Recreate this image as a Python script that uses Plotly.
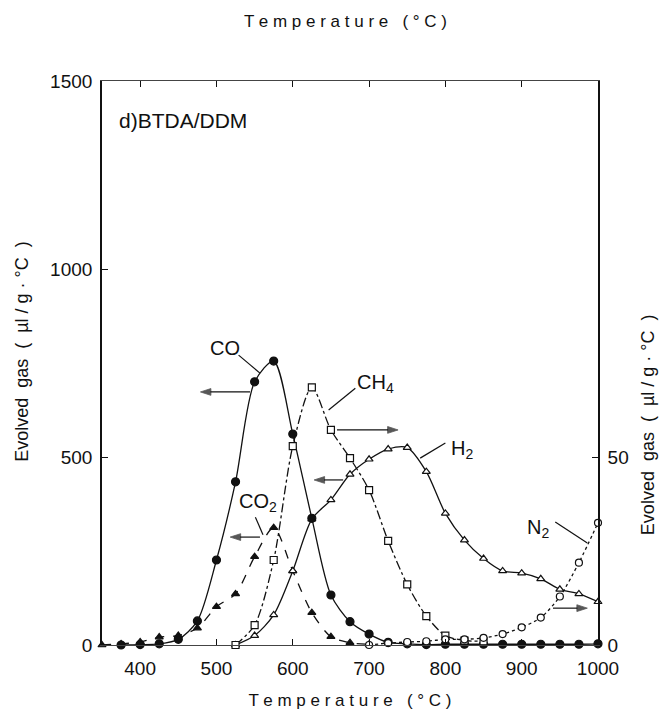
import plotly.graph_objects as go

# Evolved gas rates for BTDA/DDM (µl/g·°C)
T_CO = [375, 400, 425, 450, 475, 500, 525, 550, 575, 600, 625, 650, 675, 700, 725, 750, 775,
        800, 825, 850, 875, 900, 925, 950, 975, 1000]
CO = [0, 1, 3, 15, 64, 226, 434, 700, 755, 561, 337, 133, 62, 29, 7, 3, 1,
      2, 2, 2, 2, 2, 2, 2, 2, 3]

T_CO2 = [350, 375, 400, 425, 450, 475, 500, 525, 550, 575, 600, 625, 650, 675, 700]
CO2 = [0, 3, 8, 21, 25, 45, 102, 136, 235, 312, 197, 86, 22, 6, 2]

T_H2 = [525, 550, 575, 600, 625, 650, 675, 700, 725, 750, 775, 800, 825, 850, 875, 900,
        925, 950, 975, 1000]
H2 = [0, 25, 80, 197, 335, 386, 454, 494, 521, 525, 461, 350, 279, 230, 197, 191,
      176, 148, 136, 115]

# right-hand scale
T_CH4 = [525, 550, 575, 600, 625, 650, 675, 700, 725, 750, 775, 800, 825, 850]
CH4 = [0, 5.3, 22.6, 52.9, 68.5, 57.2, 49.7, 41.2, 27.7, 16.1, 7.7, 2.5, 1.2, 1.0]

T_N2 = [700, 725, 750, 775, 800, 825, 850, 875, 900, 925, 950, 975, 1000]
N2 = [0, 0.5, 0.8, 1.0, 1.5, 1.5, 1.9, 2.9, 4.7, 7.3, 12.9, 21.9, 32.5]

x_ticks = [400, 500, 600, 700, 800, 900, 1000]
y_ticks = [0, 500, 1000, 1500]
y2_ticks = [0, 50]

FONT = "Liberation Sans, Arial, sans-serif"
INK = "#111111"

fig = go.Figure()


def add_series(x, y, dash, symbol, fill, size, axis="y"):
    fig.add_trace(go.Scatter(
        x=x, y=y, yaxis=axis, mode="lines+markers", cliponaxis=False,
        line=dict(color=INK, width=1.3, dash=dash, shape="spline", smoothing=0.8),
        marker=dict(symbol=symbol, size=size, color=fill,
                    line=dict(color=INK, width=1.2)),
        showlegend=False,
    ))


add_series(T_CO2, CO2, "dash", "triangle-up", INK, 7)
add_series(T_CH4, CH4, "dashdot", "square", "white", 7, axis="y2")
add_series(T_N2, N2, "dot", "circle", "white", 7, axis="y2")
add_series(T_H2, H2, "solid", "triangle-up", "white", 7)
add_series(T_CO, CO, "solid", "circle", INK, 8)

# series labels
labels = [
    (511, 790, "CO"),
    (555, 380, "CO<sub>2</sub>"),
    (709, 696, "CH<sub>4</sub>"),
    (822, 519, "H<sub>2</sub>"),
    (922, 311, "N<sub>2</sub>"),
]
for x, y, t in labels:
    fig.add_annotation(x=x, y=y, text=t, showarrow=False,
                       font=dict(family=FONT, size=20, color=INK))

# arrows pointing to the axis each curve is read on (tail -> head)
arrows = [
    (544, 673, 479, 673),
    (557, 287, 518, 287),
    (658, 572, 738, 572),
    (666, 439, 628, 439),
    (941, 98, 986, 98),
]
for x0, y0, x1, y1 in arrows:
    fig.add_trace(go.Scatter(
        x=[x0, x1], y=[y0, y1], mode="lines+markers", showlegend=False,
        hoverinfo="skip",
        line=dict(color=INK, width=1.2),
        marker=dict(symbol="arrow", angleref="previous", size=[0, 11], color=INK,
                    line=dict(color=INK, width=0.8)),
    ))

# leader lines from labels to curves
leaders = [
    (529, 771, 557, 723),
    (551, 340, 561, 293),
    (682, 683, 647, 625),
    (800, 537, 767, 497),
    (944, 327, 986, 271),
]
for x0, y0, x1, y1 in leaders:
    fig.add_shape(type="line", x0=x0, y0=y0, x1=x1, y1=y1, xref="x", yref="y",
                  line=dict(color=INK, width=1.2))

fig.add_annotation(x=0.03, y=0.93, xref="paper", yref="paper",
                   xanchor="left", yanchor="middle",
                   text="d)BTDA/DDM", showarrow=False,
                   font=dict(family=FONT, size=21, color=INK))

axis_title = "Evolved  gas  (  µl / g · °C  )"
temp_title = "T e m p e r a t u r e   ( ° C )"

fig.update_layout(
    width=661, height=721,
    margin=dict(l=102, r=63, t=81, b=76),
    paper_bgcolor="white", plot_bgcolor="white",
    font=dict(family=FONT, size=19, color=INK),
    xaxis=dict(range=[350, 1000], tickvals=x_ticks, ticks="inside", ticklen=6,
               tickcolor=INK, showgrid=False, zeroline=False, showline=True,
               linecolor="#444444", linewidth=1, mirror="ticks",
               ticklabelstandoff=6,
               title=dict(text=temp_title, font=dict(size=17), standoff=16)),
    yaxis=dict(range=[0, 1500], tickvals=y_ticks, ticks="inside", ticklen=6,
               tickcolor=INK, showgrid=False, zeroline=False, showline=True,
               linecolor=INK, linewidth=1.6, ticklabelstandoff=4),
    yaxis2=dict(range=[0, 150], tickvals=y2_ticks, overlaying="y", side="right",
                ticks="inside", ticklen=6, tickcolor=INK, showgrid=False,
                zeroline=False, showline=True, linecolor=INK, linewidth=1.6,
                ticklabelstandoff=4),
)

# axis titles placed in paper space
fig.add_annotation(x=-0.161, y=0.52, xref="paper", yref="paper", textangle=-90,
                   xanchor="center", yanchor="middle",
                   text=axis_title, showarrow=False, font=dict(family=FONT, size=18, color=INK))
fig.add_annotation(x=1.101, y=0.39, xref="paper", yref="paper", textangle=-90,
                   xanchor="center", yanchor="middle",
                   text=axis_title, showarrow=False, font=dict(family=FONT, size=18, color=INK))
fig.add_annotation(x=0.49, y=1.0, xref="paper", yref="paper", yanchor="bottom", yshift=48,
                   text=temp_title, showarrow=False, font=dict(family=FONT, size=17, color=INK))

fig.write_html("out.html")
